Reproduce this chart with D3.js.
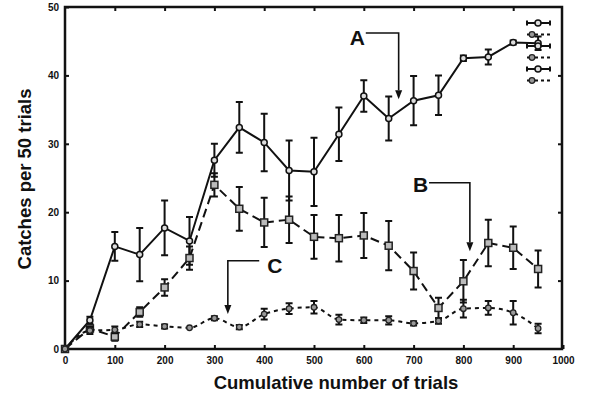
<html>
<head>
<script src="https://cdn.jsdelivr.net/npm/d3@7"></script>
<style>
  body { margin: 0; background: #fff; }
  text { font-family: "Liberation Sans", Arial, sans-serif; font-weight: bold; fill: #111; }
</style>
</head>
<body>
<svg width="591" height="397"></svg>
<script>
// Data
var trials = [0, 50, 100, 150, 200, 250, 300, 350, 400, 450, 500, 550, 600, 650, 700, 750, 800, 850, 900, 950];
var seriesA = [0, 4.2, 15.0, 13.8, 17.7, 15.8, 27.6, 32.4, 30.2, 26.1, 25.9, 31.4, 37.0, 33.7, 36.3, 37.1, 42.5, 42.7, 44.8, 44.7];
var errA    = [0, 0.5, 2.1, 3.9, 4.0, 3.5, 2.4, 3.7, 4.2, 4.4, 5.0, 3.9, 2.3, 3.2, 3.6, 2.9, 0.4, 1.1, 0.3, 1.0];
var seriesB = [0, 3.0, 1.8, 5.4, 9.0, 13.3, 24.0, 20.5, 18.5, 18.9, 16.4, 16.2, 16.6, 15.1, 11.4, 6.0, 9.9, 15.5, 14.8, 11.7];
var errB    = [0, 0.5, 0.6, 0.7, 1.2, 1.7, 1.7, 3.2, 3.6, 3.4, 3.2, 3.4, 3.3, 3.6, 2.7, 1.5, 3.1, 3.4, 3.1, 2.7];
var seriesC = [0, 2.7, 2.8, 3.6, 3.3, 3.1, 4.5, 3.2, 5.1, 5.9, 6.1, 4.3, 4.2, 4.2, 3.75, 4.1, 5.9, 6.0, 5.3, 3.0];
var errC    = [0, 0.5, 0.5, 0.4, 0.3, 0.2, 0.3, 0.3, 0.8, 0.8, 0.9, 0.7, 0.4, 0.6, 0.3, 0.4, 1.3, 1.0, 1.7, 0.7];
var xTicks = [0, 100, 200, 300, 400, 500, 600, 700, 800, 900, 1000];
var yTicks = [0, 10, 20, 30, 40, 50];
var xTitle = "Cumulative number of trials";
var yTitle = "Catches per 50 trials";
// labels with elbow arrows, in data units: label x/y, line start, corner x, arrow tip y
var labels = [
  { name: "A", lx: 572, ly: 44.5, sx: 604, sy: 46.2, cx: 670, ty: 36.5 },
  { name: "B", lx: 699, ly: 22.9, sx: 731, sy: 24.3, cx: 813, ty: 14.3 },
  { name: "C", lx: 406, ly: 11.1, sx: 390, sy: 12.9, cx: 327, ty: 5.1 }
];
var legendKeys = ["A", "B", "A", "C", "A", "B"];

var svg = d3.select("svg");
var x = d3.scaleLinear().domain([0, 1000]).range([65, 563]);
var y = d3.scaleLinear().domain([0, 50]).range([349, 7]);

var series = [
  { key: "A", vals: seriesA, err: errA, dash: null, curve: d3.curveLinear, marker: "circle" },
  { key: "B", vals: seriesB, err: errB, dash: "9,5", curve: d3.curveLinear, marker: "square" },
  { key: "C", vals: seriesC, err: errC, dash: "4,4", curve: d3.curveMonotoneX, marker: "dot" }
];
var byKey = {};
series.forEach(function(s) { byKey[s.key] = s; });

// axes, ticks inside the frame
svg.append("g").attr("transform", "translate(0,349)")
  .call(d3.axisBottom(x).tickValues(xTicks).tickFormat(d3.format("d"))
    .tickSizeInner(-4).tickSizeOuter(0).tickPadding(8));
svg.append("g").attr("transform", "translate(65,0)")
  .call(d3.axisLeft(y).tickValues(yTicks).tickSizeInner(-4).tickSizeOuter(0).tickPadding(6));
svg.append("g").attr("transform", "translate(0,7)")
  .call(d3.axisTop(x).tickValues(xTicks.slice(1, -1)).tickSizeInner(-4).tickSizeOuter(0).tickFormat(""));
svg.append("g").attr("transform", "translate(562,0)")
  .call(d3.axisRight(y).tickValues(yTicks.slice(1, -1)).tickSizeInner(-4).tickSizeOuter(0).tickFormat(""));
svg.selectAll(".domain").remove();
svg.selectAll(".tick line").attr("stroke", "#111").attr("stroke-width", 2);
svg.selectAll(".tick text").style("font-size", "10px").style("font-weight", "bold")
  .style("font-family", '"Liberation Sans", Arial, sans-serif').attr("fill", "#111");

svg.append("rect")
  .attr("x", x(0)).attr("y", y(50))
  .attr("width", 562 - x(0)).attr("height", y(0) - y(50))
  .attr("fill", "none").attr("stroke", "#111").attr("stroke-width", 2.5);

// titles
svg.append("text").attr("x", 336).attr("y", 389)
  .attr("text-anchor", "middle").style("font-size", "18.5px").text(xTitle);
svg.append("text").attr("transform", "translate(31," + 179 + ") rotate(-90)")
  .attr("text-anchor", "middle").style("font-size", "18.5px").text(yTitle);

function drawMarker(g, type, px, py) {
  if (type === "circle") {
    g.append("circle").attr("cx", px).attr("cy", py).attr("r", 3)
      .attr("fill", "#ddd").attr("stroke", "#111").attr("stroke-width", 1.5);
  } else if (type === "square") {
    g.append("rect").attr("x", px - 3.5).attr("y", py - 3.5).attr("width", 7).attr("height", 7)
      .attr("fill", "#bbb").attr("stroke", "#222").attr("stroke-width", 1.5);
  } else {
    g.append("circle").attr("cx", px).attr("cy", py).attr("r", 2.8)
      .attr("fill", "#999").attr("stroke", "#222").attr("stroke-width", 1.3);
  }
}

// series
series.forEach(function(s) {
  var g = svg.append("g");
  var pts = trials.map(function(t, i) { return { t: t, v: s.vals[i], e: s.err[i] }; });
  g.append("path").datum(pts)
    .attr("d", d3.line().x(function(d) { return x(d.t); }).y(function(d) { return y(d.v); }).curve(s.curve))
    .attr("fill", "none").attr("stroke", "#111").attr("stroke-width", 2)
    .attr("stroke-dasharray", s.dash);
  pts.forEach(function(d) {
    if (d.e > 0.25) {
      var px = x(d.t);
      g.append("path")
        .attr("d", "M" + px + "," + y(d.v + d.e) + "V" + y(d.v - d.e) +
          "M" + (px - 3.5) + "," + y(d.v + d.e) + "h7" +
          "M" + (px - 3.5) + "," + y(d.v - d.e) + "h7")
        .attr("fill", "none").attr("stroke", "#111").attr("stroke-width", 2);
    }
    drawMarker(g, s.marker, x(d.t), y(d.v));
  });
});

// labels with arrows
labels.forEach(function(l) {
  svg.append("text").attr("x", x(l.lx)).attr("y", y(l.ly)).style("font-size", "21px").text(l.name);
  svg.append("path")
    .attr("d", "M" + x(l.sx) + "," + y(l.sy) + "H" + x(l.cx) + "V" + (y(l.ty) - 9))
    .attr("fill", "none").attr("stroke", "#111").attr("stroke-width", 1.6);
  svg.append("path")
    .attr("d", "M" + (x(l.cx) - 3.5) + "," + (y(l.ty) - 9) + "L" + (x(l.cx) + 3.5) + "," + (y(l.ty) - 9) +
      "L" + x(l.cx) + "," + y(l.ty) + "Z")
    .attr("fill", "#111");
});

// stray legend rows in the top right corner
var lg = svg.append("g");
legendKeys.forEach(function(k, i) {
  var s = byKey[k];
  var ly = 23 + i * 11.5, x0 = 527, x1 = 550;
  if (!s.dash) {
    lg.append("path").attr("d", "M" + x0 + "," + ly + "H" + x1 +
        "M" + x0 + "," + (ly - 2.5) + "v5M" + x1 + "," + (ly - 2.5) + "v5")
      .attr("stroke", "#111").attr("stroke-width", 2).attr("fill", "none");
    drawMarker(lg, s.marker, 538, ly);
  } else {
    lg.append("path").attr("d", "M" + x0 + "," + ly + "H" + x1)
      .attr("stroke", "#111").attr("stroke-width", 2).attr("stroke-dasharray", "11,3,3,3");
    drawMarker(lg, "dot", 532, ly);
  }
});
</script>
</body>
</html>
